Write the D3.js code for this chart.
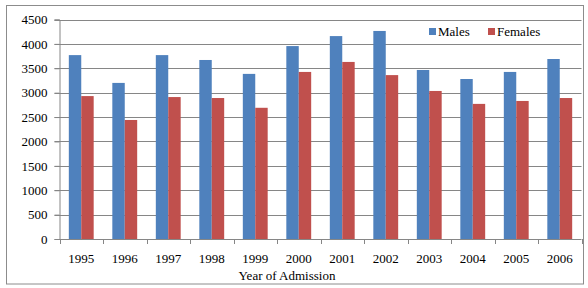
<!DOCTYPE html>
<html><head><meta charset="utf-8">
<script src="https://cdn.jsdelivr.net/npm/d3@7"></script>
<style>body{margin:0;background:#fff}svg text{font-family:"Liberation Serif","Times New Roman",serif}</style>
</head><body>
<script>
const years = ["1995","1996","1997","1998","1999","2000","2001","2002","2003","2004","2005","2006"];
const males = [3770,3200,3770,3670,3385,3955,4160,4265,3465,3280,3425,3690];
const females = [2930,2440,2910,2890,2690,3425,3630,3360,3035,2770,2830,2890];
const yTicks = [0,500,1000,1500,2000,2500,3000,3500,4000,4500];
const seriesNames = ["Males","Females"];
const colors = ["#4F81BD","#C0504D"];

(function(){
const W = 588, H = 288;
const svg = d3.select("body").append("svg").attr("width", W).attr("height", H)
  .attr("font-family","Liberation Serif, Times New Roman, serif");
svg.append("rect").attr("x",6.5).attr("y",5.5).attr("width",577).attr("height",278.5)
  .attr("fill","#fff").attr("stroke","#8c8c8c").attr("stroke-width",1);

const pL = 59.5, pR = 581.5, pT = 19.5, pB = 239;
const x = d3.scaleBand().domain(years).range([pL, pR]).paddingInner(0).paddingOuter(0);
const y = d3.scaleLinear().domain([0,4500]).range([pB, pT]);
const bw = x.bandwidth() / 3.5;
const xs = d3.scaleBand().domain(seriesNames).range([bw*0.75, bw*2.75]);

// gridlines
svg.append("g").selectAll("line").data(yTicks.filter(d=>d>0)).join("line")
  .attr("x1", pL-5).attr("x2", pR)
  .attr("y1", d=>Math.round(y(d))+0.5).attr("y2", d=>Math.round(y(d))+0.5)
  .attr("stroke","#868686").attr("stroke-width",1);

// bars
const data = [males, females];
data.forEach((vals, si) => {
  svg.append("g").selectAll("rect").data(vals).join("rect")
    .attr("x", (d,i)=> x(years[i]) + xs(seriesNames[si]))
    .attr("width", xs.bandwidth())
    .attr("y", d=>y(d)).attr("height", d=>pB - y(d))
    .attr("fill", colors[si]);
});

// y axis
const yAxis = d3.axisLeft(y).tickValues(yTicks).tickFormat(d3.format("d")).tickSize(5).tickPadding(7);
const gy = svg.append("g").attr("transform",`translate(${pL},0)`).call(yAxis)
  .attr("font-family","Liberation Serif, Times New Roman, serif").attr("font-size",13);
gy.select(".domain").attr("stroke","#868686");
gy.selectAll(".tick line").attr("stroke","#868686");
gy.selectAll("text").attr("fill","#000");

// x axis
const gx = svg.append("g").attr("transform",`translate(0,${pB})`);
gx.append("line").attr("x1",pL).attr("x2",pR).attr("y1",0.5).attr("y2",0.5).attr("stroke","#868686");
const bounds = years.map(d=>x(d)).concat([pR]);
gx.selectAll(".tk").data(bounds).join("line").attr("class","tk")
  .attr("x1",d=>Math.round(d)+0.5).attr("x2",d=>Math.round(d)+0.5).attr("y1",0).attr("y2",5)
  .attr("stroke","#868686");
gx.selectAll(".lbl").data(years).join("text").attr("class","lbl")
  .attr("x", d=>x(d)+x.bandwidth()/2).attr("y", 24)
  .attr("text-anchor","middle").attr("font-size",13).attr("fill","#000").text(d=>d);

svg.append("text").attr("x",287).attr("y",280).attr("text-anchor","middle")
  .attr("font-size",13).attr("fill","#000").text("Year of Admission");

// legend
const leg = svg.append("g");
const legX = [429, 488];
seriesNames.forEach((n,i)=>{
  leg.append("rect").attr("x",legX[i]).attr("y",28).attr("width",7).attr("height",7).attr("fill",colors[i]);
  leg.append("text").attr("x",legX[i]+9).attr("y",36).attr("font-size",13).attr("fill","#000").text(n);
});
})();
</script>
</body></html>
